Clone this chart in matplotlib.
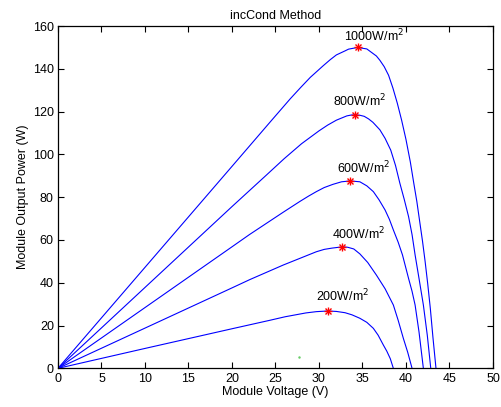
import numpy as np
import matplotlib.pyplot as plt

plt.rcParams['font.family'] = ['Liberation Sans', 'DejaVu Sans']

# P-V curves at five irradiance levels (module voltage in V, power in W)
v_200 = [0, 10, 20, 24.4, 26.1, 28.5, 29.7, 31.0, 32.0, 33.0, 33.8, 34.7, 35.5,
         36.25, 36.8, 37.4, 37.8, 38.2, 38.55]
p_200 = [0, 9.3, 18.5, 22.5, 24.1, 25.9, 26.5, 26.8, 26.6, 26.0, 25.0, 23.4, 21.5,
         18.7, 15.5, 10.9, 8.0, 4.5, 0]

v_400 = [0, 10, 20, 22.06, 25.9, 29.7, 30.6, 31.5, 32.7, 33.3, 34.0, 34.7, 35.6,
         36.6, 37.6, 38.55, 39.1, 39.7, 40.2, 40.7]
p_400 = [0, 18.8, 37.6, 41.5, 48.3, 54.5, 55.6, 56.2, 56.8, 56.6, 55.8, 53.5, 49.5,
         43.6, 37.2, 29.6, 22.5, 14, 7.5, 0]

v_600 = [0, 10, 20, 22, 25.9, 27.8, 28.8, 29.7, 30.6, 31.6, 32.6, 33.6, 34.7, 35.5,
         36.25, 36.9, 37.6, 38.1, 38.55, 39.1, 39.6, 40.3, 40.7, 41.05, 41.5, 42.0]
p_600 = [0, 28.4, 56.8, 62.5, 73, 78, 80.5, 82.6, 84.5, 86, 87.2, 87.6, 87.2, 85.3,
         82.6, 78.8, 74, 69.6, 64.7, 59, 53, 42, 36, 29.6, 17, 0]

v_800 = [0, 10, 20, 24, 26, 28, 30, 31, 32, 33.2, 33.7, 34.15, 34.7, 35.2, 35.7,
         36.2, 37.0, 37.6, 38.25, 38.8, 39.3, 39.8, 40.3, 40.7, 41.05, 41.5, 42.0,
         42.45, 42.85]
p_800 = [0, 37.8, 75.6, 90.5, 98, 105, 111, 113.7, 116, 118, 118.4, 118.5, 118.3,
         117.8, 116.6, 115, 111.5, 107.5, 102, 94.8, 86.5, 79, 70.9, 62.5, 53, 42,
         29.6, 15.5, 0]

v_1000 = [0, 10, 20, 24.4, 26.7, 27.9, 29.0, 30.5, 31.3, 32.0, 33.0, 33.4, 34.45,
          35.5, 36.0, 36.6, 37.0, 37.5, 38.0, 38.5, 39.0, 39.5, 40.0, 40.5, 40.9,
          41.25, 41.6, 41.9, 42.2, 42.5, 42.8, 43.1, 43.45]
p_1000 = [0, 47.2, 94.4, 115.2, 126, 131.3, 136, 141.5, 144.3, 146.5, 148.4, 149.2,
          150, 149.3, 147.8, 146, 144, 141, 137, 131, 124, 116, 107, 96.5, 86.5,
          78, 68, 59.5, 50, 39.5, 28, 14.5, 0]

# maximum power points found by the incCond tracker
mpp_v = [31.0, 32.7, 33.6, 34.15, 34.45]
mpp_p = [26.8, 56.8, 87.6, 118.5, 150.0]
irr_labels = ['200W/m$^2$', '400W/m$^2$', '600W/m$^2$', '800W/m$^2$', '1000W/m$^2$']

fig = plt.figure(figsize=(5.02, 4.07), dpi=100)
ax = fig.add_axes([0.1155, 0.095, 0.8665, 0.841])

for v, p in [(v_200, p_200), (v_400, p_400), (v_600, p_600), (v_800, p_800), (v_1000, p_1000)]:
    ax.plot(v, p, color='blue', lw=0.8)

ax.plot(mpp_v, mpp_p, ls='none', marker='+', color='red', ms=6, mew=1.0)
ax.plot(mpp_v, mpp_p, ls='none', marker='x', color='red', ms=4.5, mew=1.0)
ax.plot([27.7], [5.1], ls='none', marker='.', color='#66cc66', ms=1.5)

offsets = [(11, 10.5), (12, 9.5), (9.5, 9.5), (3.5, 10), (11.5, 8.5)]
for v, p, lab, off in zip(mpp_v, mpp_p, irr_labels, offsets):
    ax.annotate(lab, (v, p), xytext=off, textcoords='offset points',
                ha='center', va='center', fontsize=9)

ax.set_xlim(0, 50)
ax.set_ylim(0, 160)
ax.set_xticks(np.arange(0, 51, 5))
ax.set_yticks(np.arange(0, 161, 20))
ax.tick_params(direction='in', top=True, right=True, length=4, labelsize=9, pad=3)
for s in ax.spines.values():
    s.set_linewidth(0.9)

ax.set_xlabel('Module Voltage (V)', fontsize=9, labelpad=1)
ax.set_ylabel('Module Output Power (W)', fontsize=9, labelpad=3)
ax.set_title('incCond Method', fontsize=9, pad=5)

fig.savefig('out.png', dpi=100)
